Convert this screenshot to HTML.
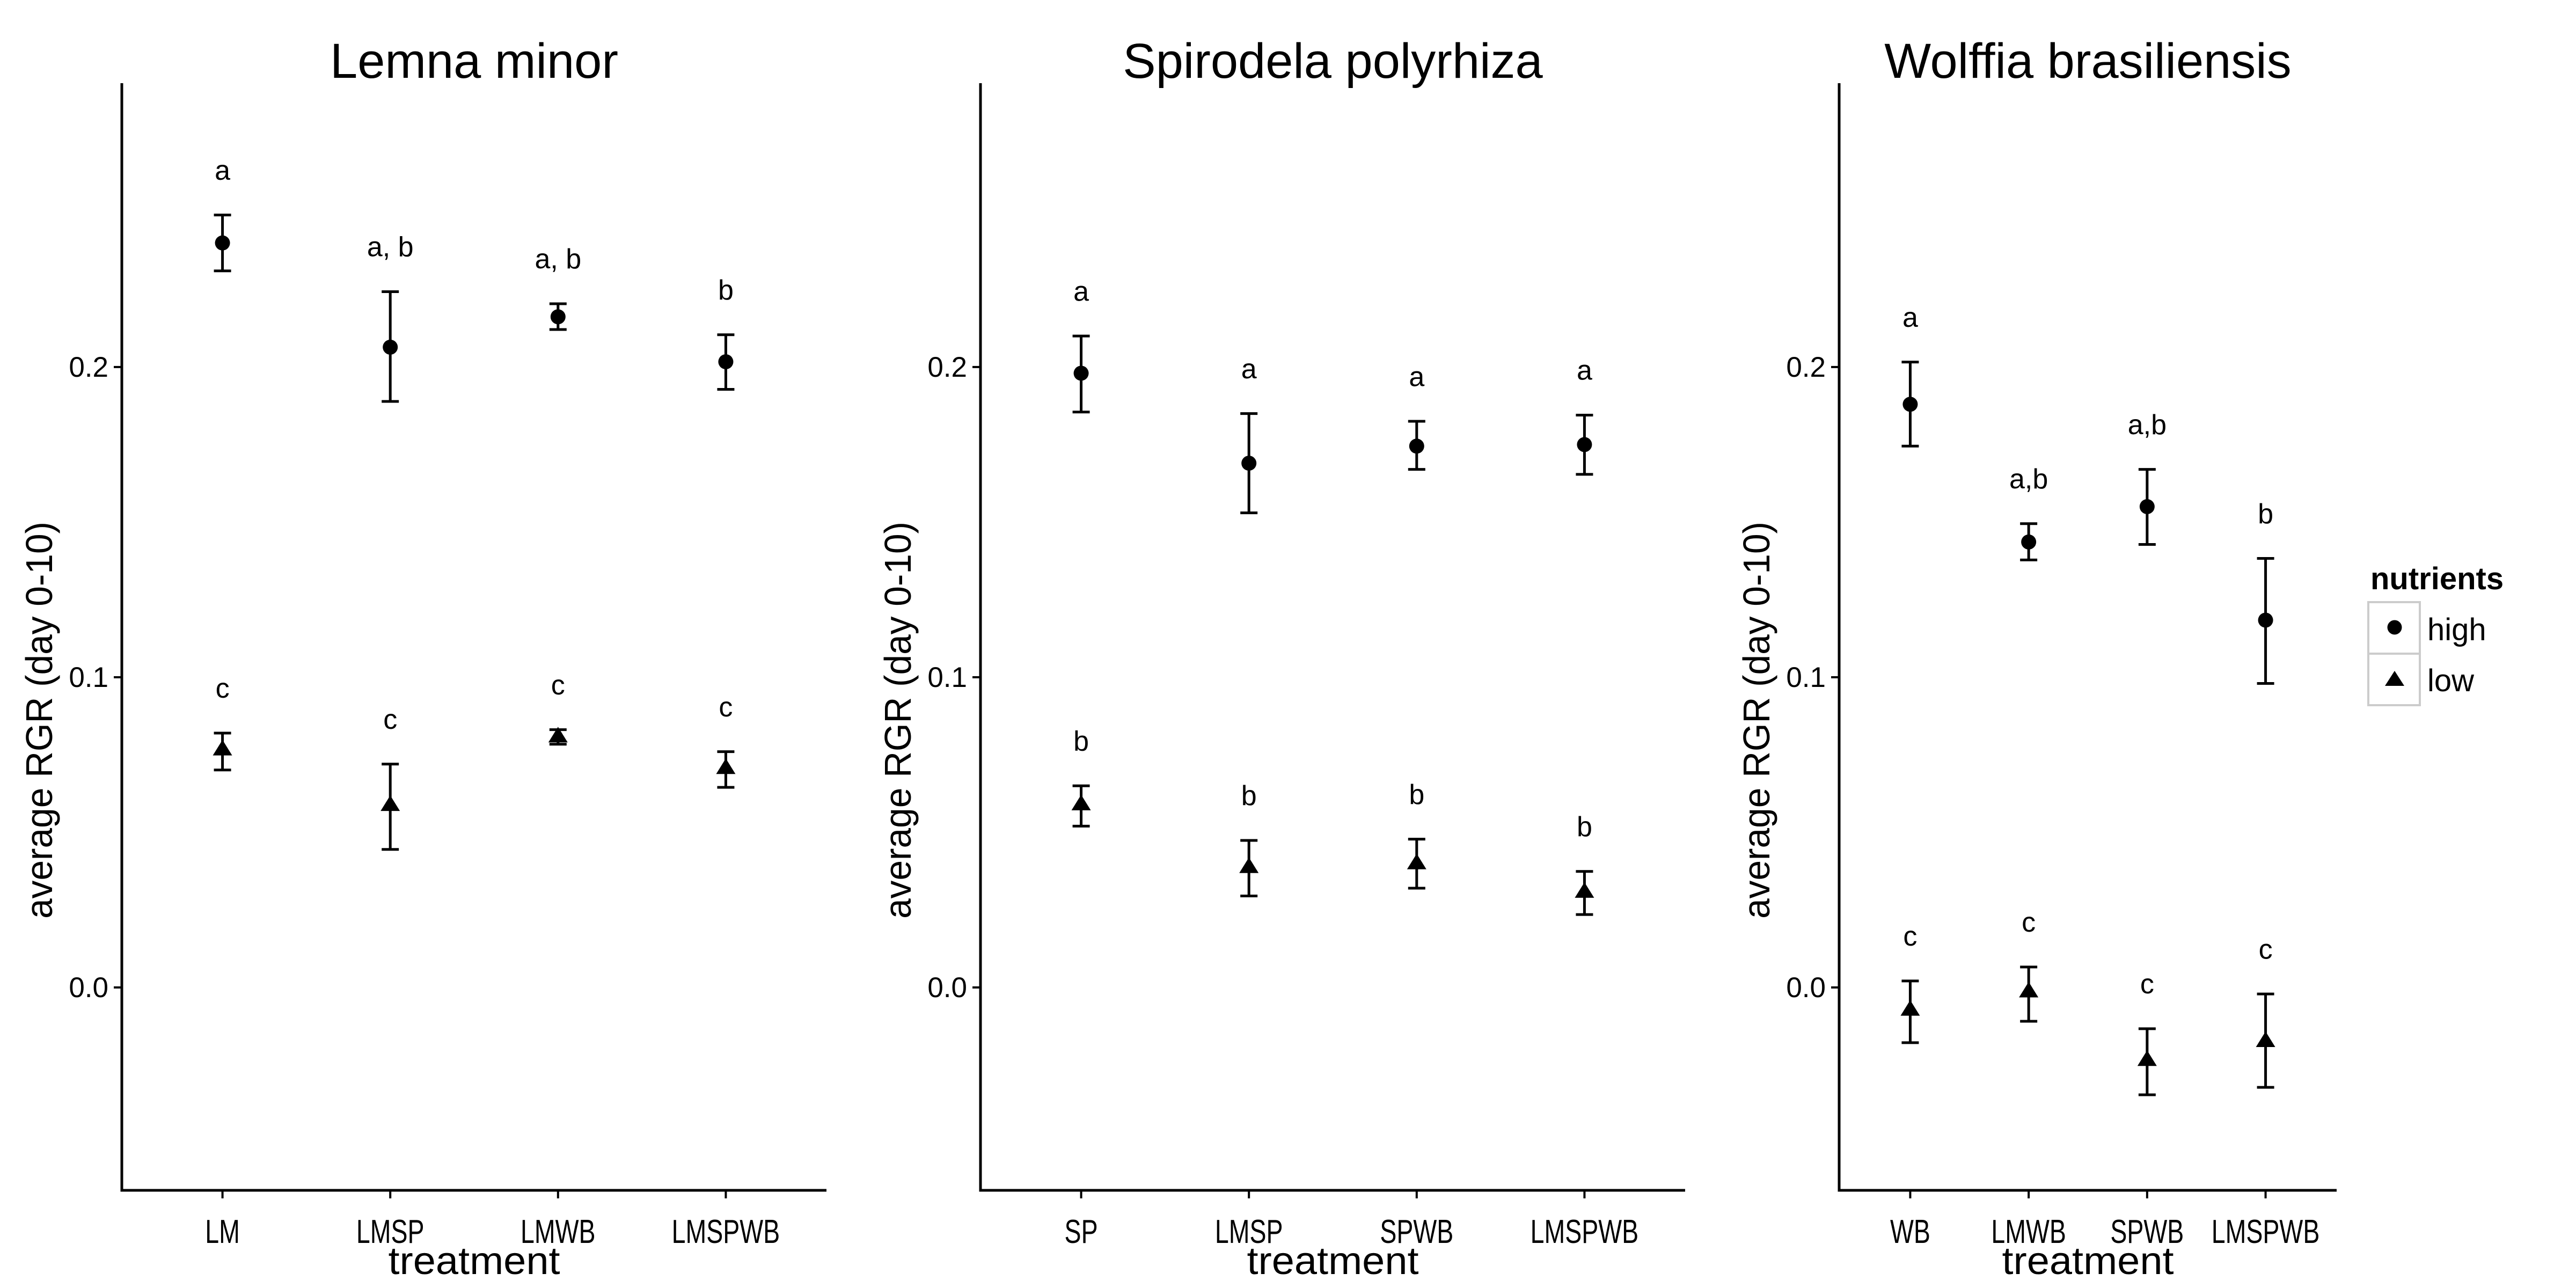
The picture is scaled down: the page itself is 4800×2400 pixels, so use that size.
<!DOCTYPE html>
<html><head><meta charset="utf-8"><style>
html,body{margin:0;padding:0;background:#fff;}
svg{display:block;font-family:"Liberation Sans",Arial,sans-serif;}
</style></head><body>
<svg id="chart" width="4800" height="2400" viewBox="0 0 4800 2400" xmlns="http://www.w3.org/2000/svg">
<rect width="4800" height="2400" fill="#fff"/>
<g id="panels"></g>
<g id="legend">
  <text x="4417" y="1098" font-size="58" font-weight="bold">nutrients</text>
  <rect x="4413" y="1122" width="96" height="96" fill="#fff" stroke="#cccccc" stroke-width="4"/>
  <rect x="4413" y="1218" width="96" height="96" fill="#fff" stroke="#cccccc" stroke-width="4"/>
  <circle cx="4462" cy="1169" r="13.5" fill="#000"/>
  <polygon points="4444,1278 4480,1278 4462,1250" fill="#000"/>
  <text x="4523" y="1193" font-size="58">high</text>
  <text x="4523" y="1288" font-size="58">low</text>
</g>
</svg>
<script>
const panelTitles = ["Lemna minor", "Spirodela polyrhiza", "Wolffia brasiliensis"];
const catsLM = ["LM", "LMSP", "LMWB", "LMSPWB"];
const catsSP = ["SP", "LMSP", "SPWB", "LMSPWB"];
const catsWB = ["WB", "LMWB", "SPWB", "LMSPWB"];
const yTicks = [0.0, 0.1, 0.2];
const yTickLabels = ["0.0", "0.1", "0.2"];
// Lemna minor
const lmHigh = [0.240, 0.2064, 0.2162, 0.2017];
const lmHighLo = [0.231, 0.1889, 0.2121, 0.1928];
const lmHighHi = [0.249, 0.2243, 0.2204, 0.2104];
const lmLow = [0.0767, 0.0588, 0.0809, 0.0707];
const lmLowLo = [0.0701, 0.0445, 0.0784, 0.0645];
const lmLowHi = [0.082, 0.072, 0.0831, 0.076];
const lmHighLetters = ["a", "a, b", "a, b", "b"];
const lmLowLetters = ["c", "c", "c", "c"];
// Spirodela polyrhiza
const spHigh = [0.198, 0.169, 0.1745, 0.175];
const spHighLo = [0.1855, 0.153, 0.167, 0.1654];
const spHighHi = [0.210, 0.185, 0.1825, 0.1845];
const spLow = [0.059, 0.0388, 0.040, 0.0308];
const spLowLo = [0.052, 0.0295, 0.032, 0.0235];
const spLowHi = [0.065, 0.0474, 0.0478, 0.0374];
const spHighLetters = ["a", "a", "a", "a"];
const spLowLetters = ["b", "b", "b", "b"];
// Wolffia brasiliensis
const wbHigh = [0.188, 0.1436, 0.155, 0.1184];
const wbHighLo = [0.1745, 0.1378, 0.1428, 0.098];
const wbHighHi = [0.2016, 0.1495, 0.167, 0.1383];
const wbLow = [-0.0072, -0.0013, -0.0234, -0.0173];
const wbLowLo = [-0.0178, -0.0109, -0.0346, -0.0322];
const wbLowHi = [0.0021, 0.0066, -0.0133, -0.0021];
const wbHighLetters = ["a", "a,b", "a,b", "b"];
const wbLowLetters = ["c", "c", "c", "c"];

const NS = "http://www.w3.org/2000/svg";
const Y_MIN = -0.0654, Y_MAX = 0.2915, TOP = 155, BOTTOM = 2218;
function yScale(v){ return BOTTOM - (v - Y_MIN) / (Y_MAX - Y_MIN) * (BOTTOM - TOP); }
function mk(tag, attrs, parent){ const e = document.createElementNS(NS, tag); for (const k in attrs) e.setAttribute(k, attrs[k]); parent.appendChild(e); return e; }

const layouts = [
  {left:227, right:1540, cats:catsLM, high:lmHigh, hlo:lmHighLo, hhi:lmHighHi, low:lmLow, llo:lmLowLo, lhi:lmLowHi, hl:lmHighLetters, ll:lmLowLetters, key:"lemna"},
  {left:1827, right:3140, cats:catsSP, high:spHigh, hlo:spHighLo, hhi:spHighHi, low:spLow, llo:spLowLo, lhi:spLowHi, hl:spHighLetters, ll:spLowLetters, key:"spirodela"},
  {left:3427, right:4354, cats:catsWB, high:wbHigh, hlo:wbHighLo, hhi:wbHighHi, low:wbLow, llo:wbLowLo, lhi:wbLowHi, hl:wbHighLetters, ll:wbLowLetters, key:"wolffia"}
];
const root = document.getElementById("panels");
layouts.forEach((p, pi) => {
  const g = mk("g", {}, root);
  
  
  const step = (p.right - p.left) / 4.2;
  const xScale = i => p.left + (i + 0.6) * step;
  const t = mk("text", {x:(p.left + p.right) / 2, y:145, "font-size":92, "text-anchor":"middle"}, g);
  t.textContent = panelTitles[pi];
  
  
  const ax = mk("path", {d:`M${p.left},${TOP} V${BOTTOM} H${p.right}`, fill:"none", stroke:"#000", "stroke-width":5}, g);
  
  
  yTicks.forEach((v, i) => {
    const y = yScale(v);
    const tk = mk("line", {x1:p.left - 15, x2:p.left, y1:y, y2:y, stroke:"#000", "stroke-width":4}, g);
    
    
    const tl = mk("text", {x:p.left - 25, y:y + 18, "font-size":53, "text-anchor":"end"}, g);
    tl.textContent = yTickLabels[i];
    
    
  });
  const yt = mk("text", {x:0, y:0, "font-size":70, "text-anchor":"middle", transform:`translate(${p.left - 130},${(yScale(0.0)+yScale(0.2))/2 + 80}) rotate(-90)`, textLength:740, lengthAdjust:"spacingAndGlyphs"}, g);
  yt.textContent = "average RGR (day 0-10)";
  
  
  const xt = mk("text", {x:(p.left + p.right) / 2, y:2374, "font-size":72, "text-anchor":"middle", textLength:320, lengthAdjust:"spacingAndGlyphs"}, g);
  xt.textContent = "treatment";
  
  
  p.cats.forEach((c, i) => {
    const x = xScale(i);
    const tk = mk("line", {x1:x, x2:x, y1:BOTTOM, y2:BOTTOM + 15, stroke:"#000", "stroke-width":4}, g);
    
    
    const tl = mk("text", {x:x, y:2316, "font-size":62, "text-anchor":"middle"}, g);
    tl.textContent = c;
    
    
    const len = tl.getComputedTextLength();
    tl.setAttribute("textLength", len * 0.75);
    tl.setAttribute("lengthAdjust", "spacingAndGlyphs");
  });
  const series = [
    {vals:p.high, lo:p.hlo, hi:p.hhi, letters:p.hl, shape:"circle", name:"high"},
    {vals:p.low, lo:p.llo, hi:p.lhi, letters:p.ll, shape:"triangle", name:"low"}
  ];
  series.forEach(s => {
    s.vals.forEach((v, i) => {
      const x = xScale(i), y = yScale(v), y1 = yScale(s.lo[i]), y2 = yScale(s.hi[i]);
      const eb = mk("path", {d:`M${x-16},${y2} H${x+16} M${x},${y2} V${y1} M${x-16},${y1} H${x+16}`, fill:"none", stroke:"#000", "stroke-width":5}, g);
      
      
      let m;
      if (s.shape === "circle") m = mk("circle", {cx:x, cy:y, r:14, fill:"#000"}, g);
      else m = mk("polygon", {points:`${x-18},${y+11} ${x+18},${y+11} ${x},${y-18}`, fill:"#000"}, g);
      
      
      const lt = mk("text", {x:x, y:yScale(s.hi[i] + 0.0138) + 14, "font-size":52, "text-anchor":"middle"}, g);
      lt.textContent = s.letters[i];
      
      
    });
  });
});
</script>
</body></html>
